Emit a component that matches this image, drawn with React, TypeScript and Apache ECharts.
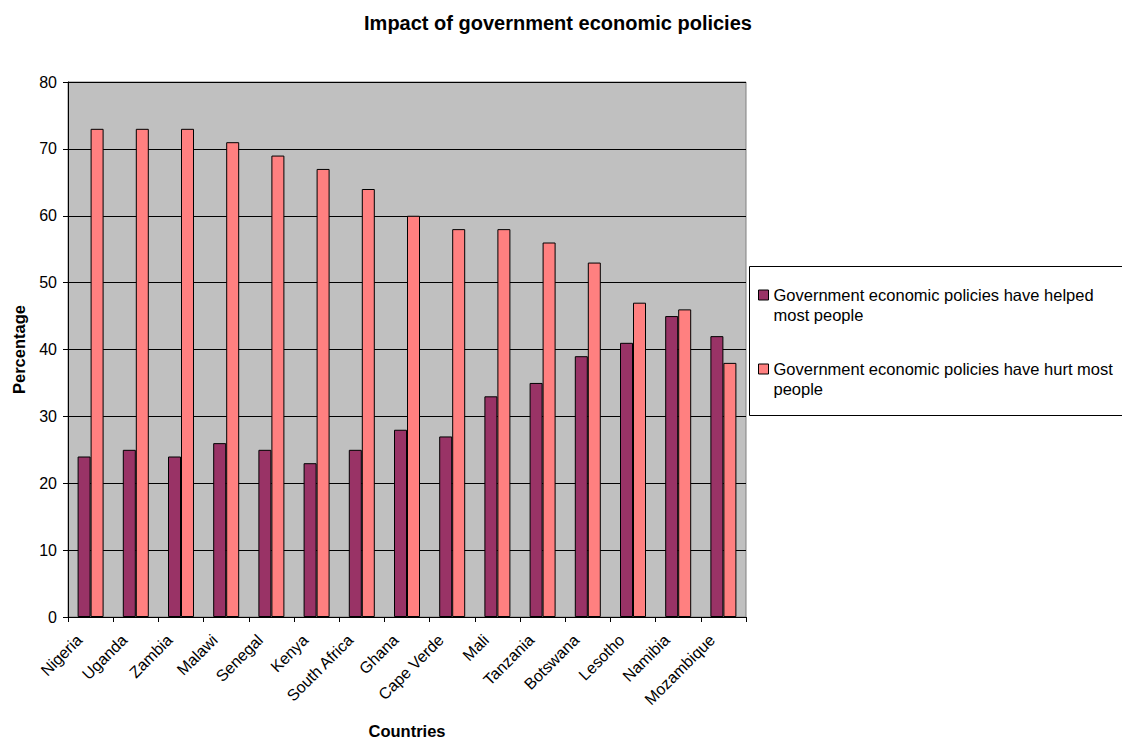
import React, { useEffect, useRef } from "react";
import * as echarts from "echarts";

const countries = ["Nigeria", "Uganda", "Zambia", "Malawi", "Senegal", "Kenya", "South Africa", "Ghana", "Cape Verde", "Mali", "Tanzania", "Botswana", "Lesotho", "Namibia", "Mozambique"];
const helped = [24, 25, 24, 26, 25, 23, 25, 28, 27, 33, 35, 39, 41, 45, 42];
const hurt = [73, 73, 73, 71, 69, 67, 64, 60, 58, 58, 56, 53, 47, 46, 38];
const seriesNames = [
  "Government economic policies have helped most people",
  "Government economic policies have hurt most people",
];
const legendLabels = [
  "Government economic policies have helped\nmost people",
  "Government economic policies have hurt most\npeople",
];

const FONT = "'Liberation Sans', Arial, sans-serif";

export default function App() {
  const ref = useRef<HTMLDivElement>(null);
  useEffect(() => {
    const chart = echarts.init(ref.current!, null, { renderer: "svg" });
    chart.setOption({
      animation: false,
      textStyle: { fontFamily: FONT },
      title: {
        text: "Impact of government economic policies",
        left: 553,
        textAlign: "center",
        top: 8,
        textStyle: { fontSize: 20, fontWeight: "bold", color: "#000", fontFamily: FONT },
      },
      graphic: [
        {
          type: "rect",
          shape: { x: 749.5, y: 266.5, width: 380, height: 149 },
          style: { fill: "#fff", stroke: "#000", lineWidth: 1 },
          z: 0,
        },
      ],
      legend: {
        orient: "vertical",
        left: 758,
        top: 265,
        padding: 0,
        itemWidth: 10,
        itemHeight: 10,
        itemGap: 14,
        icon: "rect",
        data: seriesNames,
        formatter: (n: string) => " \n" + legendLabels[seriesNames.indexOf(n)],
        itemStyle: { borderColor: "#000", borderWidth: 1 },
        textStyle: { fontSize: 16.5, color: "#000", lineHeight: 20, fontFamily: FONT },
        z: 5,
      },
      grid: {
        left: 68,
        right: 376,
        top: 82,
        bottom: 121,
        outerBoundsMode: "none",
        containLabel: false,
        show: true,
        backgroundColor: "#C0C0C0",
        borderColor: "#808080",
        borderWidth: 1,
      },
      xAxis: {
        type: "category",
        data: countries,
        name: "Countries",
        nameLocation: "middle",
        nameGap: 105,
        nameTextStyle: { fontSize: 16.5, fontWeight: "bold", color: "#000", fontFamily: FONT },
        axisLine: { lineStyle: { color: "#000", width: 1 } },
        axisTick: { show: true, length: 5, lineStyle: { color: "#000" } },
        axisLabel: { rotate: 45, fontSize: 16, color: "#000", margin: 9, interval: 0, fontFamily: FONT, padding: [0, 16, 0, 0] },
      },
      yAxis: {
        type: "value",
        min: 0,
        max: 80,
        interval: 10,
        name: "Percentage",
        nameLocation: "middle",
        nameGap: 41,
        nameTextStyle: { fontSize: 16.5, fontWeight: "bold", color: "#000", fontFamily: FONT },
        axisLine: { show: true, lineStyle: { color: "#000", width: 1 } },
        axisTick: { show: true, length: 5, lineStyle: { color: "#000" } },
        axisLabel: { fontSize: 16, color: "#000", margin: 11, fontFamily: FONT },
        splitLine: { show: true, lineStyle: { color: "#000", width: 1 } },
      },
      series: [
        {
          name: seriesNames[0],
          type: "bar",
          data: helped,
          barWidth: 13,
          barGap: "0%",
          itemStyle: { color: "#993366", borderColor: "#000", borderWidth: 1 },
        },
        {
          name: seriesNames[1],
          type: "bar",
          data: hurt,
          barWidth: 13,
          barGap: "0%",
          itemStyle: { color: "#FF8080", borderColor: "#000", borderWidth: 1 },
        },
      ],
    });
    return () => chart.dispose();
  }, []);
  return <div ref={ref} style={{ width: 1122, height: 738, position: "absolute", left: 0, top: 0 }} />;
}
